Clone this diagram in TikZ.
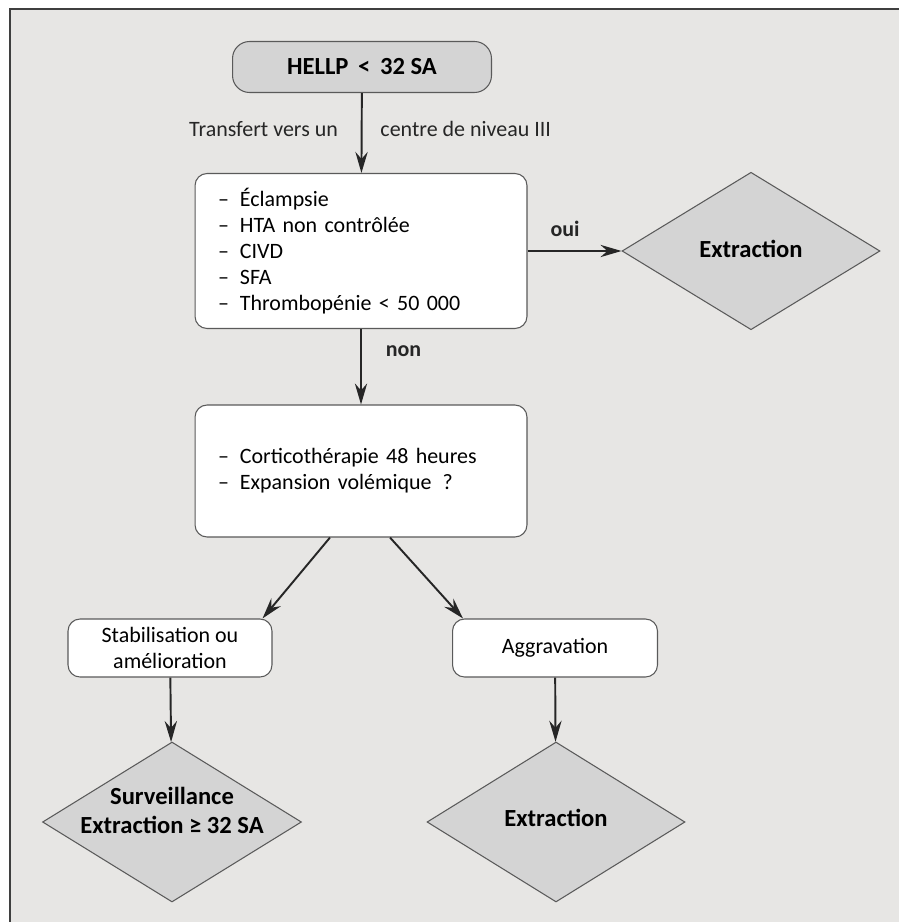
\documentclass[tikz,border=0pt]{standalone}
\usepackage{fontspec}
\setmainfont{Carlito}
\usetikzlibrary{shapes.geometric,arrows.meta,calc}
\definecolor{bggray}{RGB}{231,230,228}
\definecolor{fillgray}{RGB}{212,212,212}
\definecolor{linegray}{RGB}{90,90,90}

\begin{document}
\begin{tikzpicture}[
  x=0.02cm, y=-0.02cm,
  >={Stealth[length=12pt,width=7pt,inset=4pt]},
  every node/.style={font=\fontsize{12.5}{14.7}\selectfont},
  box/.style={draw=linegray, line width=0.6pt, fill=white, rounded corners=0.24cm, align=center, inner sep=0pt},
  listbox/.style={box, text width=5.72cm, inner xsep=0.46cm, align=left},
  decision/.style={diamond, draw=linegray, line width=0.6pt, fill=fillgray, inner sep=0pt, minimum width=5.16cm, minimum height=3.15cm},
  bold/.style={font=\fontsize{14}{16.5}\selectfont\bfseries, align=center},
  conn/.style={->, line width=1.1pt, black!85}
]
\useasboundingbox (0,0) rectangle (899,922);
\fill [bggray] (10,9) rectangle (899,922);
\draw [linegray!70!black, line width=1.7pt] (10,922) -- (10,9) -- (899,9);

\node [box, fill=fillgray, rounded corners=0.34cm, minimum width=5.18cm, minimum height=1.02cm, bold] (hellp) at (362,67) {HELLP \,<\, 32 SA};

\node [listbox, minimum height=3.1cm] (crit) at (361,251)
  {–\enspace Éclampsie\\ –\enspace HTA non contrôlée\\ –\enspace CIVD\\ –\enspace SFA\\ –\enspace Thrombopénie < 50 000};

\node [decision] (ext1) at (751,251) {};
\node [bold] (ext1txt) at (751,249) {Extraction};

\node [listbox, minimum height=2.64cm] (corti) at (361,471)
  {–\enspace Corticothérapie 48 heures\\ –\enspace Expansion volémique \,?};

\node [box, minimum width=4.08cm, minimum height=1.16cm] (stab) at (170,648) {Stabilisation ou\\amélioration};
\node [box, minimum width=4.1cm, minimum height=1.16cm] (aggr) at (555,648) {Aggravation};

\node [decision, minimum width=5.18cm, minimum height=3.2cm] (surv) at (172,822) {};
\node [bold] (survtxt) at (172,810) {Surveillance\\Extraction ≥ 32 SA};

\node [decision, minimum height=3.2cm] (ext2) at (556,822) {};
\node [bold] (ext2txt) at (556,818) {Extraction};

\draw [conn] (hellp) -- (crit)
  node [pos=0.45, anchor=east, xshift=-0.34cm] (trl) {Transfert vers un}
  node [pos=0.45, anchor=west, xshift=0.24cm] (trr) {centre de niveau III};
\draw [conn] (crit) -- (ext1) node [pos=0.4, above=0.16cm, font=\fontsize{12.5}{14}\selectfont\bfseries] (oui) {oui};
\draw [conn] (crit) -- (corti) node [pos=0.3, anchor=west, xshift=0.36cm, font=\fontsize{12.5}{14}\selectfont\bfseries] (non) {non};
\draw [conn] ($(corti.south)+(-31,0)$) -- ($(stab.north east)+(-10,0)$);
\draw [conn] ($(corti.south)+(29,0)$) -- ($(aggr.north west)+(11,0)$);
\draw [conn] (stab) -- (surv);
\draw [conn] (aggr) -- (ext2);
\end{tikzpicture}
\end{document}
